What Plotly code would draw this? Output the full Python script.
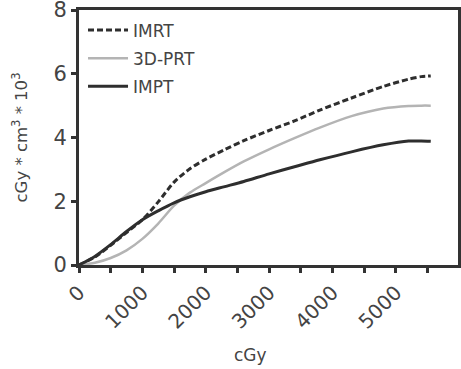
import plotly.graph_objects as go

dose = [0, 250, 500, 750, 1000, 1250, 1500, 1750, 2000, 2300, 2600, 3000, 3400, 3800, 4300, 4800, 5200, 5400, 5550]
imrt = [0, 0.25, 0.62, 1.02, 1.42, 1.98, 2.60, 3.02, 3.32, 3.62, 3.90, 4.22, 4.52, 4.86, 5.24, 5.60, 5.83, 5.91, 5.93]
prt3d = [0, 0.07, 0.22, 0.46, 0.82, 1.30, 1.86, 2.27, 2.57, 2.92, 3.25, 3.63, 3.98, 4.31, 4.67, 4.91, 4.99, 5.00, 5.00]
impt = [0, 0.27, 0.64, 1.05, 1.42, 1.70, 1.95, 2.14, 2.30, 2.46, 2.62, 2.86, 3.08, 3.30, 3.55, 3.77, 3.89, 3.89, 3.88]
x_ticks = [0, 1000, 2000, 3000, 4000, 5000]
y_ticks = [0, 2, 4, 6, 8]

font = "DejaVu Sans, Arial, sans-serif"
txt = "#444444"
fig = go.Figure()
fig.add_trace(go.Scatter(x=dose, y=imrt, mode="lines", name="IMRT", legendgroup="a",
                         line=dict(color="#2e2e2e", width=3, dash="6px,3px", shape="spline", smoothing=0.8)))
fig.add_trace(go.Scatter(x=dose, y=prt3d, mode="lines", name="3D-PRT", legendgroup="b",
                         line=dict(color="#b4b4b4", width=2.5, shape="spline", smoothing=0.8)))
fig.add_trace(go.Scatter(x=dose, y=impt, mode="lines", name="IMPT", legendgroup="c",
                         line=dict(color="#2e2e2e", width=3, shape="spline", smoothing=0.8)))

fig.update_layout(
    width=461, height=369,
    margin=dict(l=79, r=3, t=10, b=104),
    paper_bgcolor="white", plot_bgcolor="white",
    font=dict(family=font, color=txt),
    showlegend=True,
    legend=dict(x=0.0106, y=0.99, xanchor="left", yanchor="top", bgcolor="rgba(0,0,0,0)",
                font=dict(size=17, family=font, color=txt), tracegroupgap=3, itemwidth=40),
    xaxis=dict(range=[0, 5980], tickvals=x_ticks, tickangle=-45,
               automargin=False, ticklabeloverflow="allow",
               showline=True, linewidth=3, linecolor="#333", mirror=True, showgrid=False,
               zeroline=False, ticks="outside", ticklen=5, tickwidth=2.5, tickcolor="#333",
               minor=dict(dtick=500, ticks="outside", ticklen=5, tickwidth=2.5, tickcolor="#333"),
               tickfont=dict(size=20, color=txt)),
    yaxis=dict(range=[0, 8], tickvals=y_ticks,
               automargin=False, ticklabeloverflow="allow",
               showline=True, linewidth=3, linecolor="#333", mirror=True, showgrid=False,
               zeroline=False, ticks="outside", ticklen=5, tickwidth=2.5, tickcolor="#333",
               tickfont=dict(size=21, color=txt),
               title=dict(text="cGy * cm<sup>3</sup> * 10<sup>3</sup>", font=dict(size=16.5, color=txt), standoff=22)),
    annotations=[dict(text="cGy", xref="paper", yref="paper", x=(250 - 79) / 379, y=-(355 - 265) / 255,
                      xanchor="center", yanchor="middle", showarrow=False,
                      font=dict(size=17, color=txt, family=font))],
)
fig.write_html("out.html", post_script="document.body.style.margin='0';",
               config={"displayModeBar": False})
